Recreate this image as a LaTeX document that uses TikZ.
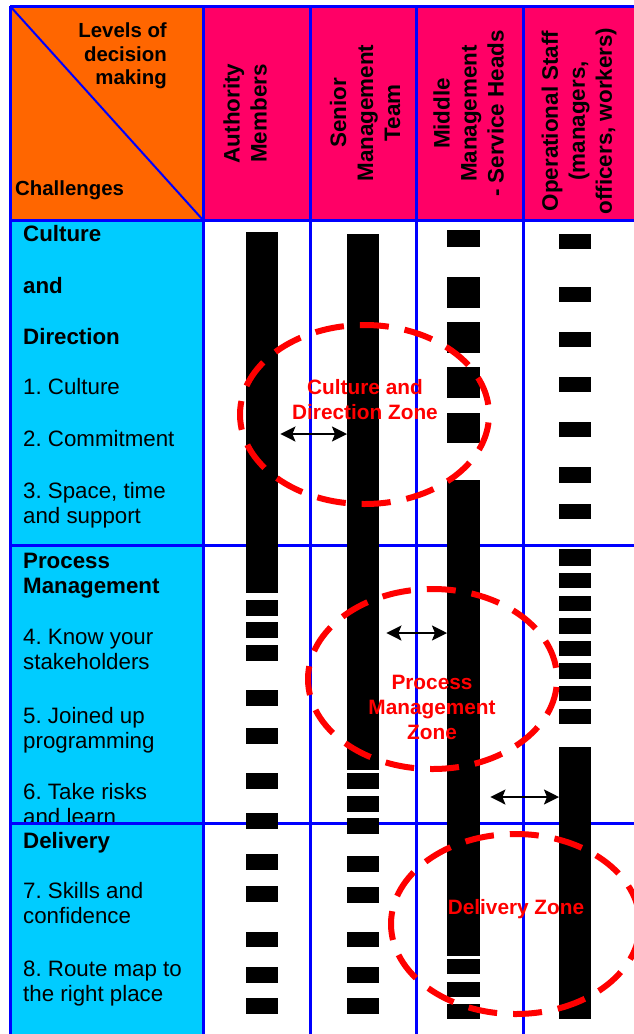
\documentclass[tikz,border=0pt]{standalone}
\usepackage{fontspec}
\setmainfont{Liberation Sans}
\usetikzlibrary{arrows.meta}
\definecolor{cornerorange}{HTML}{FF6600}
\definecolor{levelpink}{HTML}{FF0066}
\definecolor{challengecyan}{HTML}{00CCFF}
\definecolor{gridblue}{HTML}{0000FF}
\frenchspacing

\begin{document}
\begin{tikzpicture}[x=1pt,y=-1pt,
    challenge/.style={anchor=base west,inner sep=0,align=left,font=\fontsize{22.3}{25}\selectfont},
    heading/.style={challenge,font=\fontsize{22.3}{25}\selectfont\bfseries},
    leveltext/.style={rotate=90,inner sep=0,align=center,font=\fontsize{22.4}{27}\selectfont\bfseries},
    corner/.style={inner sep=0,font=\fontsize{20.4}{23.5}\selectfont\bfseries},
    bar/.style={fill=black,inner sep=0,minimum width=32,anchor=north west},
    zone/.style={draw=red,line width=6pt,dash pattern=on 29pt off 16pt,dash phase=37pt},
    zonelabel/.style={text=red,inner sep=0,align=center,font=\fontsize{20.8}{25}\selectfont\bfseries},
    zonearrow/.style={{Stealth[length=15pt,width=15pt,inset=3pt]}-{Stealth[length=15pt,width=15pt,inset=3pt]},line width=2pt},
    gridline/.style={draw=gridblue,line width=3pt}]
      \useasboundingbox (0,0) rectangle (634,1034);
      \clip (0,0) rectangle (634,1034);
      % header cells
      \fill[cornerorange] (10,6) rectangle (203,220);
      \fill[levelpink] (203,6) rectangle (640,220);
      \draw[draw=gridblue,line width=2pt] (10,6) -- (203,220);
      \node[corner,anchor=base east,align=right](levels) at (167,84.5) {Levels of\\decision\\making};
      \node[corner,anchor=base west](challenges) at (15,195) {Challenges};
      \node[leveltext](authority) at (245,113.5) {Authority\\Members};
      \node[leveltext](senior) at (365,113) {Senior\\Management\\Team};
      \node[leveltext](middle) at (468.5,113.5) {Middle\\Management\\- Service Heads};
      \node[leveltext](operational) at (579,121) {Operational Staff\\(managers,\\officers, workers)};
      % challenges column (last line on the given baseline)
      \fill[challengecyan] (10,220) rectangle (203,823);
      \node[heading](culture) at (23,344) {Culture\\[27pt]and\\[26pt]Direction};
      \node[challenge](c1) at (23,394) {1. Culture};
      \node[challenge](c2) at (23,446) {2. Commitment};
      \node[challenge](c3) at (23,523) {3. Space, time\\and support};
      \node[heading](process) at (23,593) {Process\\Management};
      \node[challenge](c4) at (23,669) {4. Know your\\stakeholders};
      \node[challenge](c5) at (23,748) {5. Joined up\\programming};
      \node[challenge](c6) at (23,824) {6. Take risks\\and learn};
      \fill[challengecyan] (10,823) rectangle (203,1034);
      \node[heading](delivery) at (23,848) {Delivery};
      \node[challenge](c7) at (23,923) {7. Skills and\\confidence};
      \node[challenge](c8) at (23,1001) {8. Route map to\\the right place};
      % grid
      \draw[gridline] (10,6) -- (10,1034);
      \foreach \x in {203,310.5,416,523.5}
        \draw[gridline] (\x,6) -- (\x,1034);
      \foreach \y in {6,220,545,823.5}
        \draw[gridline] (10,\y) -- (634,\y);
      % bars
      \node[bar,minimum height=361](authbar) at (246,232) {};
      \foreach \t/\b in {600/616,622/638,645/661,690/706,728/744,773/789,813/829,854/870,886/902,932/947,967/983,998/1014}
        \fill (246,\t) rectangle (278,\b);
      \node[bar,minimum height=536](seniorbar) at (347,234) {};
      \foreach \t/\b in {773/789,796/812,818/834,856/872,887/903,932/947,967/983,998/1014}
        \fill (347,\t) rectangle (379,\b);
      \node[bar,minimum width=33,minimum height=476](middlebar) at (447,480) {};
      \foreach \t/\b in {230/247,277/308,322/353,367/398,413/443,959/974,982/997,1004/1019}
        \fill (447,\t) rectangle (480,\b);
      \node[bar,minimum height=272](operbar) at (559,747) {};
      \foreach \t/\b in {234/249,287/302,332/347,377/392,422/437,467/483,504/519,549/566,573/588,596/611,618/634,641/656,663/679,686/701,709/724}
        \fill (559,\t) rectangle (591,\b);
      % zones
      \draw[zone] (364.5,414.5) ellipse (124.5 and 89.5);
      \draw[zone] (432.5,679) ellipse (124.5 and 90);
      \draw[zone] (515.5,924) ellipse (124.5 and 90);
      \draw[zonearrow,shorten <=2pt] (authbar.east |- 0,434) -- (seniorbar.west |- 0,434);
      \draw[zonearrow,shorten <=7pt] (seniorbar.east |- 0,633) -- (middlebar.west |- 0,633);
      \draw[zonearrow,shorten <=10pt] (middlebar.east |- 0,797) -- (operbar.west |- 0,797);
      \node[zonelabel](cdzone) at (365,400) {Culture and\\Direction Zone};
      \node[zonelabel](pmzone) at (432,707) {Process\\Management\\Zone};
      \node[zonelabel](dzone) at (516,909) {Delivery Zone};
    \end{tikzpicture}
\end{document}
